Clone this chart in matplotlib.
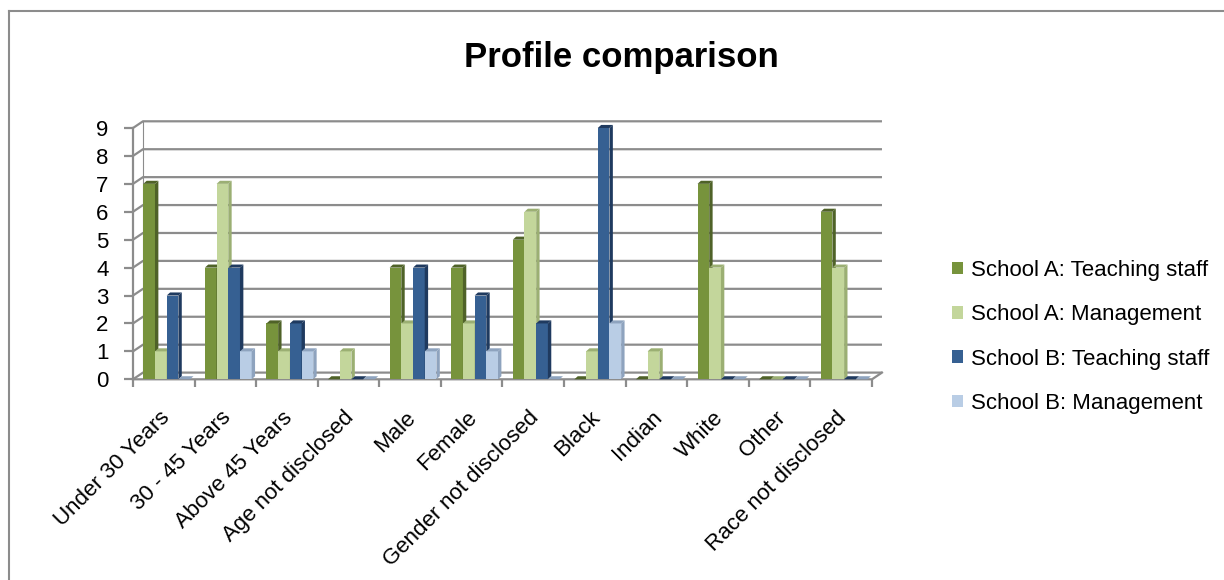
import numpy as np
import matplotlib
matplotlib.use('Agg')
import matplotlib.pyplot as plt
from matplotlib.patches import Polygon, Patch
from matplotlib.lines import Line2D

plt.rcParams['font.family'] = ['Liberation Sans', 'DejaVu Sans']

categories = ['Under 30 Years', '30 - 45 Years', 'Above 45 Years', 'Age not disclosed',
              'Male', 'Female', 'Gender not disclosed', 'Black', 'Indian', 'White',
              'Other', 'Race not disclosed']
series = ['School A: Teaching staff', 'School A: Management',
          'School B: Teaching staff', 'School B: Management']
a_teach = [7, 4, 2, 0, 4, 4, 5, 0, 0, 7, 0, 6]
a_mgmt = [1, 7, 1, 1, 2, 2, 6, 1, 1, 4, 0, 4]
b_teach = [3, 4, 2, 0, 4, 3, 2, 9, 0, 0, 0, 0]
b_mgmt = [0, 1, 1, 0, 1, 1, 0, 2, 0, 0, 0, 0]

front = ['#77933C', '#C3D69B', '#366092', '#B9CDE5']
side = ['#4F6228', '#9BAF73', '#1F3A5F', '#8EA3BE']
grid_c = '#8C8C8C'

W, H = 1224, 580
fig = plt.figure(figsize=(W / 100, H / 100), dpi=100)
# plot area in pixels: x 133..872, y 128(top=9)..379.3(0)
ax = fig.add_axes([133 / W, 1 - 379.3 / H, (872 - 133) / W, (379.3 - 128) / H])
ax.set_xlim(0, 12)
ax.set_ylim(0, 9)

# 3D offsets of the back wall (data units)
wdx, wdy = 0.162, 0.24
# depth of each bar
bdx, bdy = 0.055, 0.11

# back wall gridlines with diagonal to the front axis
for v in range(10):
    ax.plot([0, wdx, 12 + wdx], [v, v + wdy, v + wdy], color=grid_c, lw=1.6,
            clip_on=False, zorder=1, solid_capstyle='butt')
# floor front edge and right diagonal
ax.plot([0, 12, 12 + wdx], [0, 0, wdy], color=grid_c, lw=1.6, clip_on=False, zorder=1)
ax.plot([wdx, wdx], [wdy, 9 + wdy], color=grid_c, lw=0.8, clip_on=False, zorder=1)

x = np.arange(len(categories))
bw = 0.19
start = 0.167
data = [a_teach, a_mgmt, b_teach, b_mgmt]
for k, vals in enumerate(data):
    xs = x + start + k * bw
    ax.bar(xs, vals, width=bw, align='edge', color=front[k], edgecolor='none',
           zorder=3 + k * 0.01, label=series[k], clip_on=False)
    for xi, v in zip(xs, vals):
        side_pts = [(xi + bw, 0), (xi + bw + bdx, bdy), (xi + bw + bdx, v + bdy), (xi + bw, v)]
        top_pts = [(xi, v), (xi + bw, v), (xi + bw + bdx, v + bdy), (xi + bdx, v + bdy)]
        ax.add_patch(Polygon(side_pts, closed=True, facecolor=side[k], edgecolor='none',
                             zorder=3 + k * 0.01, clip_on=False))
        ax.add_patch(Polygon(top_pts, closed=True, facecolor=side[k], edgecolor='none',
                             zorder=3 + k * 0.01, clip_on=False))

for s in ax.spines.values():
    s.set_visible(False)
ax.plot([0, 0], [0, 9], color=grid_c, lw=1.6, clip_on=False, zorder=2)

ax.set_yticks(range(10))
ax.set_yticklabels([str(v) for v in range(10)], fontsize=16)
ax.set_xticks(range(13))
ax.set_xticklabels([])
ax.set_xticks(x + 0.42, minor=True)
ax.set_xticklabels(categories, minor=True, rotation=45, ha='right', va='top',
                   rotation_mode='anchor', fontsize=16)
ax.tick_params(axis='y', length=6.5, width=1.6, color=grid_c, pad=11)
ax.tick_params(axis='x', which='major', length=6, width=1.6, color=grid_c)
ax.tick_params(axis='x', which='minor', length=0, pad=20)

fig.text(621 / W, 1 - 58 / H, 'Profile comparison', fontsize=25, fontweight='bold',
         ha='center', va='center')

handles = [Patch(facecolor=front[k], edgecolor='none') for k in range(4)]
fig.legend(handles, series, loc='center left', bbox_to_anchor=(932 / W, 1 - 337 / H),
           frameon=False, fontsize=16, handlelength=0.5, handleheight=0.5,
           handletextpad=0.35, labelspacing=1.05)

# chart border (left and top)
fig.add_artist(Line2D([9 / W, 9 / W], [0, 1 - 11 / H], color='#8C8C8C', lw=1.5))
fig.add_artist(Line2D([9 / W, 1], [1 - 11 / H, 1 - 11 / H], color='#8C8C8C', lw=1.5))

fig.savefig('out.png', dpi=100)
